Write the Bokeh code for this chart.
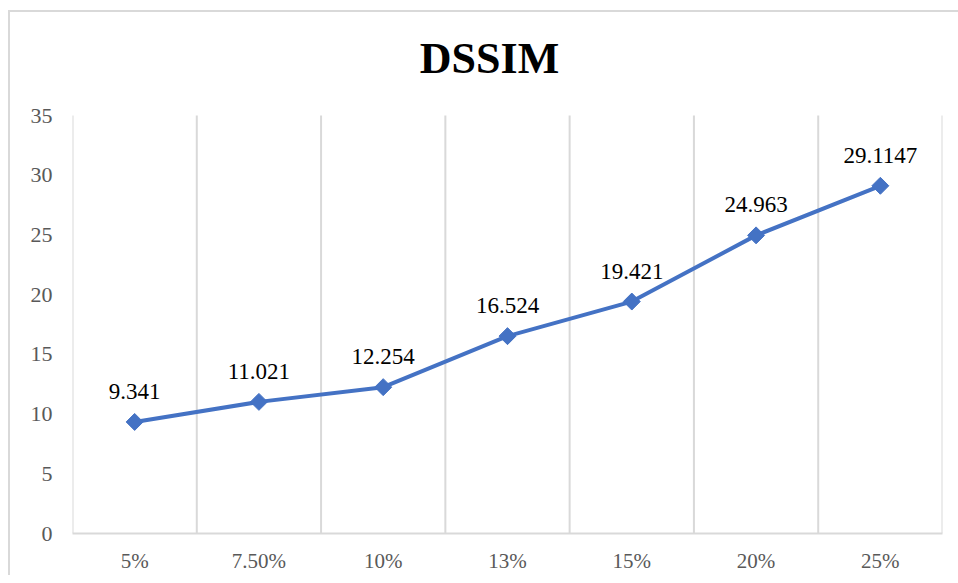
import math
from bokeh.plotting import figure
from bokeh.models import ColumnDataSource, FixedTicker, LabelSet
from bokeh.core.properties import value
from bokeh.embed import file_html
from bokeh.resources import INLINE

categories = ["5%", "7.50%", "10%", "13%", "15%", "20%", "25%"]
values = [9.341, 11.021, 12.254, 16.524, 19.421, 24.963, 29.1147]
value_labels = ["9.341", "11.021", "12.254", "16.524", "19.421", "24.963", "29.1147"]
y_ticks = [0, 5, 10, 15, 20, 25, 30, 35]
title_text = "DSSIM"

SERIF = "Liberation Serif"
GRID = "#d9d9d9"
BLUE = "#4472C4"

Y_MAX = 35
PX_PER_UNIT = 418 / Y_MAX
TOP_PAD = 103  # px between canvas top and the plotting area top

n = len(categories)
xs = [i + 0.5 for i in range(n)]
src = ColumnDataSource(dict(x=xs, y=values, lab=value_labels))

p = figure(width=948, height=561, output_backend="svg", toolbar_location=None,
           x_range=(0, n), y_range=(0, Y_MAX + TOP_PAD / PX_PER_UNIT),
           min_border_left=62, min_border_right=16, min_border_top=0, min_border_bottom=40)
p.frame_width = 870
p.frame_height = 418 + TOP_PAD
p.outline_line_color = None
p.background_fill_color = "white"
p.border_fill_color = "white"
p.styles = {"border-top": "2px solid #d9d9d9", "border-left": "2px solid #d9d9d9",
            "margin-top": "10px", "margin-left": "8px"}

# vertical grid lines at category boundaries, spanning the value range
bounds = list(range(n + 1))
p.segment(x0=bounds, x1=bounds, y0=[0] * len(bounds), y1=[Y_MAX] * len(bounds),
          line_color=GRID, line_width=2)

p.line("x", "y", source=src, line_color=BLUE, line_width=4)
p.scatter("x", "y", source=src, marker="square", angle=math.pi / 4, size=12,
          fill_color=BLUE, line_color=BLUE)

labels = LabelSet(x="x", y="y", text="lab", source=src, text_align="center",
                  text_baseline="alphabetic", y_offset=23, text_font=SERIF,
                  text_font_size="23px", text_color="black")
p.add_layout(labels)

# chart title (centred on the chart area)
p.text(x=[(489 - 72) / (870 / n)], y=[Y_MAX + 57 / PX_PER_UNIT], text=[title_text],
       text_align="center", text_baseline="alphabetic",
       text_font=value(SERIF), text_font_size="44px", text_font_style="bold",
       text_color="black")

# x axis
p.xaxis.ticker = FixedTicker(ticks=xs)
p.xaxis.major_label_overrides = {x: c for x, c in zip(xs, categories)}
p.xaxis.major_tick_line_color = None
p.xaxis.minor_tick_line_color = None
p.xaxis.axis_line_color = GRID
p.xaxis.axis_line_width = 2
p.xaxis.major_label_text_font = SERIF
p.xaxis.major_label_text_font_size = "21px"
p.xaxis.major_label_text_color = "#595959"
p.xaxis.major_label_standoff = 9

# y axis
p.yaxis.ticker = FixedTicker(ticks=y_ticks)
p.yaxis.major_tick_line_color = None
p.yaxis.minor_tick_line_color = None
p.yaxis.axis_line_color = None
p.yaxis.major_label_text_font = SERIF
p.yaxis.major_label_text_font_size = "22px"
p.yaxis.major_label_text_color = "#595959"
p.yaxis.major_label_standoff = 14

p.xgrid.grid_line_color = None
p.ygrid.grid_line_color = None

open("out.html", "w").write(file_html(p, INLINE))
